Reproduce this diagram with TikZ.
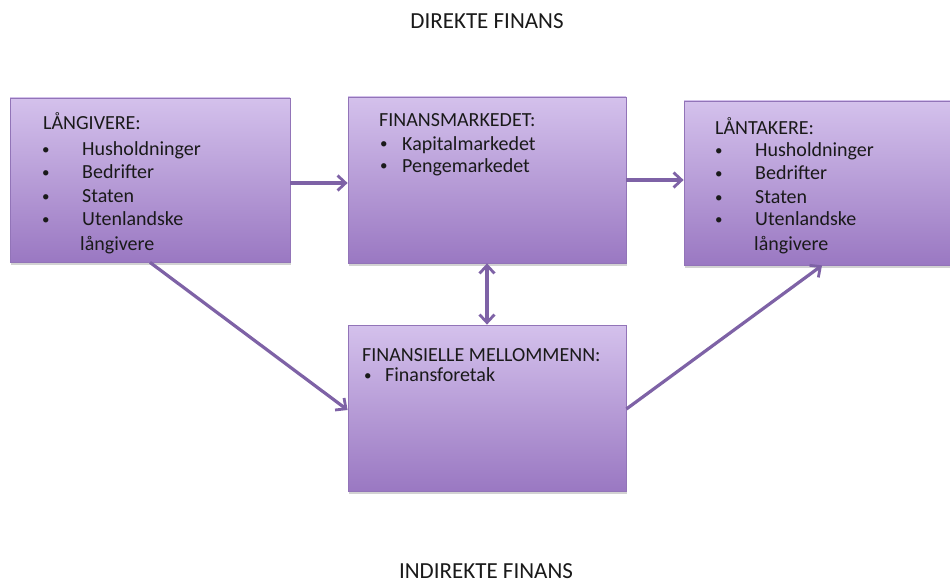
\documentclass[tikz,border=0pt]{standalone}
\usepackage{fontspec}
\setmainfont{Carlito}
\usetikzlibrary{arrows.meta,shadows}
\definecolor{boxtop}{HTML}{D4C1EC}
\definecolor{boxbot}{HTML}{9A78C2}
\definecolor{boxline}{HTML}{9274B8}
\definecolor{arrowcol}{HTML}{7E62A6}
\definecolor{txt}{HTML}{1A1A1A}
\tikzset{
  boxshape/.style={draw=boxline, line width=0.8pt, top color=boxtop, bottom color=boxbot,
    inner sep=0pt, drop shadow={opacity=0.35, shadow xshift=1pt, shadow yshift=-2.5pt}},
  tipshape/.style={},
  flowarrow/.style={draw=arrowcol, line width=3.2pt,
    -{Straight Barb[length=8pt,width=15pt,line width=2.8pt]}},
  bothway/.style={draw=arrowcol, line width=3.2pt,
    {Straight Barb[length=8pt,width=15pt,line width=2.8pt]}-{Straight Barb[length=8pt,width=15pt,line width=2.8pt]}},
  lbl/.style={anchor=base west, inner sep=0pt, text=txt, font=\fontsize{20}{24}\selectfont},
  dot/.style={anchor=base west, inner sep=0pt, text=txt, font=\fontsize{15}{18}\selectfont},
  title/.style={anchor=base, inner sep=0pt, text=txt, font=\fontsize{23}{26}\selectfont}
}
\begin{document}
\begin{tikzpicture}[x=1pt,y=-1pt]
\useasboundingbox (0,0) rectangle (950,583);
\fill[white] (0,0) rectangle (950,583);
% boxes
\node[boxshape, minimum width=280pt, minimum height=164pt] (b1) at (150,180) {};
\node[boxshape, minimum width=278pt, minimum height=166pt] (b2) at (487,180) {};
\node[boxshape, minimum width=266pt, minimum height=164pt] (b3) at (817,183) {};
\node[boxshape, minimum width=278pt, minimum height=166pt] (b4) at (487,408) {};
% titles
\node[title] (t1) at (487,29) {DIREKTE FINANS};
\node[title] (t2) at (486,578) {INDIREKTE FINANS};
% box 1 text
\node[lbl] (l1) at (43,130) {LÅNGIVERE:};
\node[dot] (l1a) at (42,154) {•};
\node[dot] (l1b) at (42,177) {•};
\node[dot] (l1c) at (42,201) {•};
\node[dot] (l1d) at (42,224) {•};
\node[lbl] (l1e) at (82,155) {Husholdninger};
\node[lbl] (l1f) at (82,178) {Bedrifter};
\node[lbl] (l1g) at (82,202) {Staten};
\node[lbl] (l1h) at (82,225) {Utenlandske};
\node[lbl] (l1i) at (80,250) {långivere};
% box 2 text
\node[lbl] (l2) at (379,127) {FINANSMARKEDET:};
\node[dot] (l2a) at (380,149) {•};
\node[dot] (l2b) at (380,171) {•};
\node[lbl] (l2c) at (402,150) {Kapitalmarkedet};
\node[lbl] (l2d) at (402,172) {Pengemarkedet};
% box 3 text
\node[lbl] (l3) at (715,135) {LÅNTAKERE:};
\node[dot] (l3a) at (715,156) {•};
\node[dot] (l3b) at (715,178) {•};
\node[dot] (l3c) at (715,202) {•};
\node[dot] (l3d) at (715,224) {•};
\node[lbl] (l3e) at (755,157) {Husholdninger};
\node[lbl] (l3f) at (755,179) {Bedrifter};
\node[lbl] (l3g) at (755,203) {Staten};
\node[lbl] (l3h) at (755,225) {Utenlandske};
\node[lbl] (l3i) at (754,250) {långivere};
% box 4 text
\node[lbl] (l4) at (362,361) {FINANSIELLE MELLOMMENN:};
\node[dot] (l4a) at (364,380) {•};
\node[lbl] (l4b) at (385,381) {Finansforetak};
% connectors
\draw[flowarrow] ([yshift=-3pt]b1.east) -- ([yshift=-3pt]b2.west);
\draw[flowarrow] (b2.east) -- (b2.east -| b3.west);
\draw[bothway] (b2.south) -- (b4.north);
\draw[flowarrow] (b1.south) -- ([yshift=-2pt]b4.west);
\draw[flowarrow] ([yshift=-1pt]b4.east) -- ([xshift=5pt]b3.south);
\end{tikzpicture}
\end{document}
